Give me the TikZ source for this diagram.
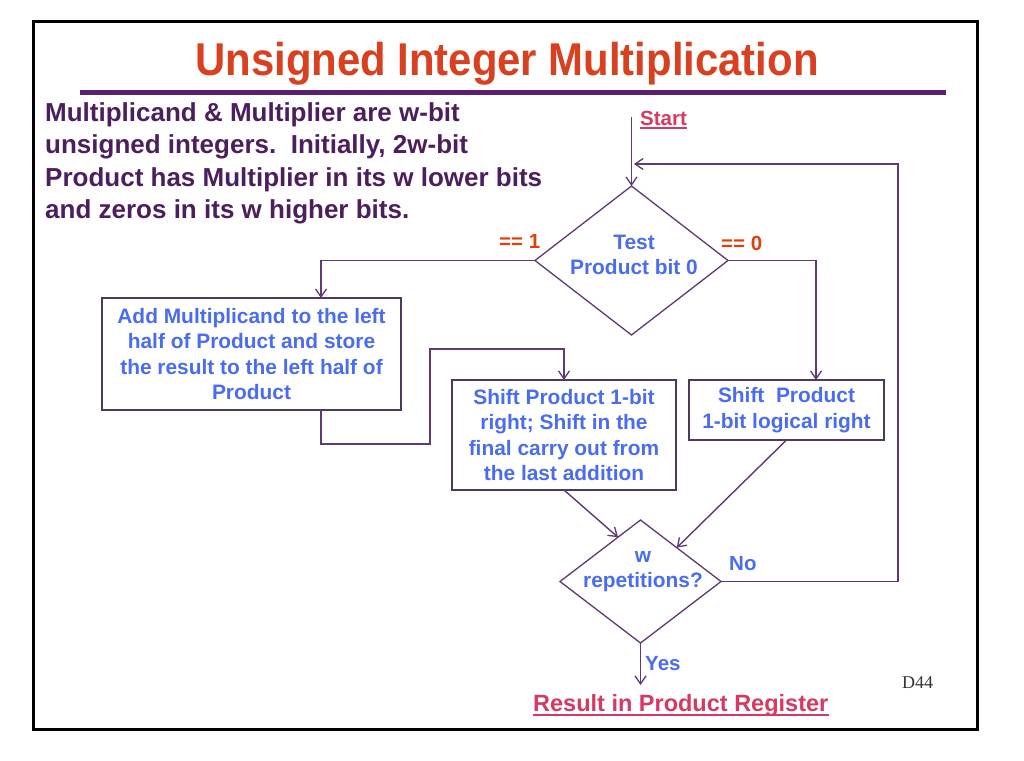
\documentclass[tikz,border=0pt]{standalone}
\usepackage{fontspec}
\setmainfont{Liberation Sans}
\newfontfamily\seriffam{Liberation Serif}
\usetikzlibrary{shapes.geometric,arrows.meta,calc}
\definecolor{titlered}{HTML}{D8401F}
\definecolor{rulepurple}{HTML}{5B1F6B}
\definecolor{textpurple}{HTML}{4C1E5E}
\definecolor{bluec}{HTML}{4A6CF0}
\definecolor{redlbl}{HTML}{E0400F}
\definecolor{crimson}{HTML}{D63A62}
\definecolor{linec}{HTML}{5E3A70}
\definecolor{boxc}{HTML}{4D3A5A}
\tikzset{
  box/.style={draw=boxc, line width=1.3pt, fill=white, text=bluec, align=center,
    inner sep=0pt, outer sep=0pt, font=\bfseries\fontsize{20.9}{25.5}\selectfont},
  diam/.style={diamond, draw=linec, line width=1.3pt, inner sep=0pt, outer sep=0pt},
  dtext/.style={text=bluec, align=center, inner sep=0pt, font=\bfseries\fontsize{20.9}{25}\selectfont},
  lbl/.style={inner sep=0pt, anchor=base west, font=\bfseries\fontsize{20.5}{25}\selectfont},
  conn/.style={draw=linec, line width=1.4pt},
  arr/.style={conn, -{Straight Barb[length=8pt,width=11pt,line width=1.3pt]}},
  uline/.style={draw=crimson, line width=1.6pt}
}
\begin{document}
\begin{tikzpicture}[x=1pt,y=-1pt]
\useasboundingbox (0,0) rectangle (1024,760);
\fill[white] (0,0) rectangle (1024,760);
\draw[black, line width=3pt] (33,22) rectangle (977,729);
% title and rule
\node[inner sep=0pt, anchor=base, text=titlered, font=\bfseries\fontsize{46}{46}\selectfont] (title) at (507,75)
  {\scalebox{0.91}[1]{Unsigned Integer Multiplication}};
\draw[rulepurple, line width=5pt] (80,92) -- (946,92);
% intro paragraph
\node[inner sep=0pt, anchor=north west, align=left, text=textpurple,
  font=\bfseries\fontsize{26}{32.5}\selectfont] (intro) at (45,102)
  {Multiplicand \& Multiplier are w-bit\\unsigned integers.\ \ Initially, 2w-bit\\Product has Multiplier in its w lower bits\\and zeros in its w higher bits.};
% start
\node[lbl, text=crimson] (start) at (640,125) {Start};
\draw[uline] ($(start.base west)+(0,3)$) -- ($(start.base east)+(0,3)$);
\coordinate (s0) at (631.5,117);
% decision 1
\node[diam, minimum width=193pt, minimum height=149pt] (d1) at (631.5,260.5) {};
\node[dtext] (d1t) at (634,255) {Test\\Product bit 0};
\node[lbl, text=redlbl] (eq1) at (499,248) {== 1};
\node[lbl, text=redlbl] (eq0) at (721,250) {== 0};
% boxes
\node[box, minimum width=299pt, minimum height=112pt] (b1) at (251.5,354)
  {Add Multiplicand to the left\\half of Product and store\\the result to the left half of\\Product};
\node[box, minimum width=224pt, minimum height=110pt] (b2) at (564,435)
  {Shift Product 1-bit\\right; Shift in the\\final carry out from\\the last addition};
\node[box, minimum width=195pt, minimum height=60pt] (b3) at (786.5,410)
  {Shift\ \ Product\\1-bit logical right};
% decision 2
\node[diam, minimum width=161pt, minimum height=123pt] (d2) at (640.5,581.5) {};
\node[dtext] (d2t) at (643,572) {w\\repetitions?};
\node[lbl, text=bluec] (no) at (729,570) {No};
\node[lbl, text=bluec] (yes) at (645,670) {Yes};
% result
\node[lbl, text=crimson, font=\bfseries\fontsize{23.5}{28}\selectfont] (res) at (533,711) {Result in Product Register\ };
\draw[uline] ($(res.base west)+(0,4)$) -- ($(res.base east)+(0,4)$);
\node[inner sep=0pt, anchor=base west, text=black!80, font=\seriffam\fontsize{18}{20}\selectfont] (d44) at (902,688) {D44};
% connectors
\draw[arr] (s0) -- (d1.north);
\draw[arr] (d1.west) -| ($(b1.north)+(69.5,0)$);
\draw[arr] (d1.east) -| ($(b3.north)+(29.5,0)$);
\draw[arr] ($(b1.south)+(69.5,0)$) -- ++(0,34) -- (430,444) -- (430,349) -| (b2.north);
\draw[arr] (b2.south) -- ($(d2.north)!0.28!(d2.west)$);
\draw[arr] (b3.south) -- ($(d2.north)!0.45!(d2.east)$);
\coordinate (loopend) at (634,164);
\draw[arr] (d2.east) -- (898,581.5) |- (loopend);
\coordinate (yesend) at (640.5,685);
\draw[arr] (d2.south) -- (yesend);
\end{tikzpicture}
\end{document}
